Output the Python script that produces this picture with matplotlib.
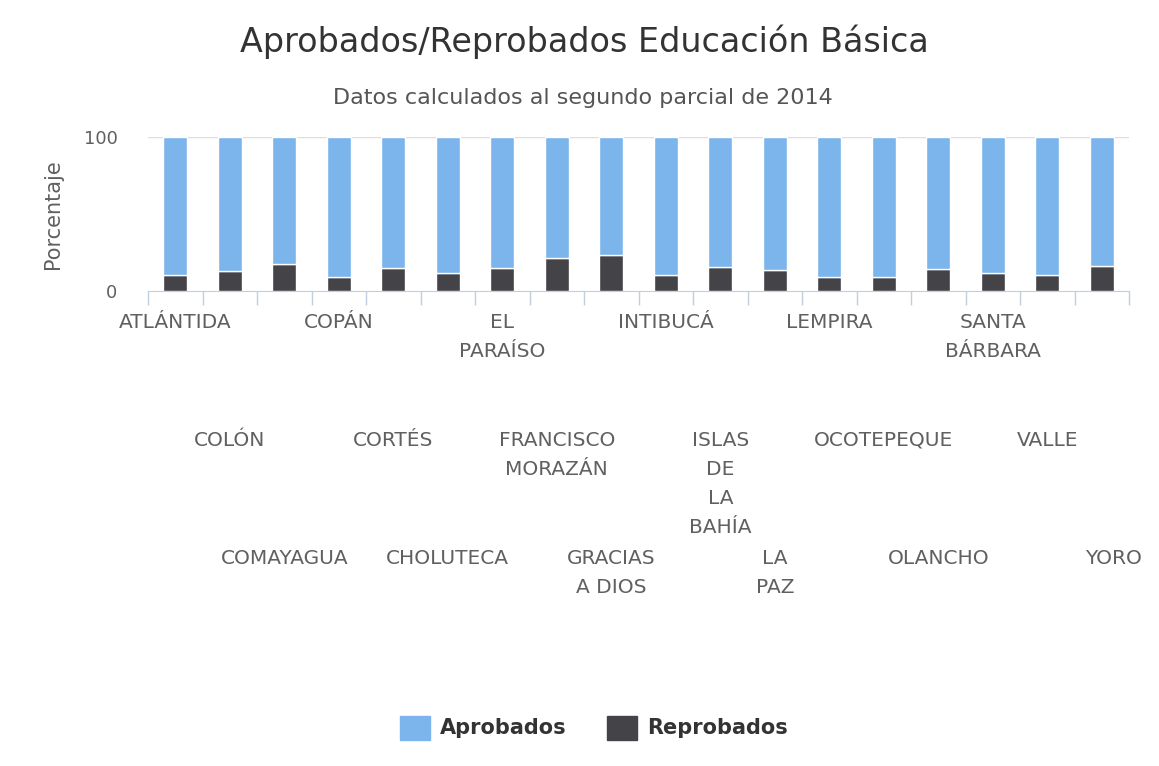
import matplotlib
matplotlib.use("Agg")
import matplotlib.pyplot as plt
from matplotlib.transforms import blended_transform_factory
from matplotlib.patches import Rectangle

categories = ["ATLÁNTIDA", "COLÓN", "COMAYAGUA", "COPÁN", "CORTÉS", "CHOLUTECA",
              "EL\nPARAÍSO", "FRANCISCO\nMORAZÁN", "GRACIAS\nA DIOS", "INTIBUCÁ",
              "ISLAS\nDE\nLA\nBAHÍA", "LA\nPAZ", "LEMPIRA", "OCOTEPEQUE", "OLANCHO",
              "SANTA\nBÁRBARA", "VALLE", "YORO"]
reprobados = [10.6, 13.0, 17.7, 9.1, 15.2, 11.7, 15.2, 21.2, 23.6,
              10.4, 15.4, 13.9, 9.1, 9.1, 14.1, 11.7, 10.4, 16.2]
aprobados = [100 - r for r in reprobados]
yticks = [0, 100]

W, H = 1159, 766
fig = plt.figure(figsize=(W / 100, H / 100), dpi=100)
ax = fig.add_axes([148 / W, 1 - 291 / H, (1129 - 148) / W, (291 - 137) / H])

c_apr = "#7cb5ec"
c_rep = "#434348"
x = list(range(len(categories)))
ax.bar(x, reprobados, width=0.44, color=c_rep, edgecolor="white", linewidth=1, zorder=3)
ax.bar(x, aprobados, bottom=reprobados, width=0.44, color=c_apr, edgecolor="white",
       linewidth=1, zorder=3)

ax.set_xlim(-0.5, len(categories) - 0.5)
ax.set_ylim(0, 100)
for s in ["top", "right", "left"]:
    ax.spines[s].set_visible(False)
ax.spines["bottom"].set_color("#C0D0E0")
ax.axhline(100, color="#e6dcd2", linewidth=1, zorder=1)

# category boundary ticks
ax.set_xticks([i - 0.5 for i in range(len(categories) + 1)])
ax.set_xticklabels([])
ax.tick_params(axis="x", length=10, color="#C0D0E0", width=1)
ax.set_yticks(yticks)
ax.set_yticklabels([str(v) for v in yticks], fontsize=13, color="#606060",
                   family="DejaVu Sans")
ax.tick_params(axis="y", length=0, pad=22)
fig.text(53 / W, 1 - 214 / H, "Porcentaje", rotation=90, ha="center", va="center",
         fontsize=15, color="#606060", family="DejaVu Sans")

# staggered labels, one text per line
tr = blended_transform_factory(ax.transData, fig.transFigure)
row_base = [328, 446, 564]
step = 29
for i, lab in enumerate(categories):
    row = i % 3
    xi = i
    if i == len(categories) - 1:
        xi = i + 0.22
    for j, line in enumerate(lab.split("\n")):
        ax.text(xi, 1 - (row_base[row] + j * step) / H, line, transform=tr,
                ha="center", va="baseline", fontsize=14.5, color="#606060",
                family="DejaVu Sans")

fig.text(584 / W, 1 - 42 / H, "Aprobados/Reprobados Educación Básica", ha="center",
         va="center", fontsize=24, color="#333333", family="DejaVu Sans")
fig.text(583 / W, 1 - 98 / H, "Datos calculados al segundo parcial de 2014", ha="center",
         va="center", fontsize=16, color="#555555", family="DejaVu Sans")

# legend
for (x0, x1, col, name) in [(400, 440, c_apr, "Aprobados"), (607, 647, c_rep, "Reprobados")]:
    fig.patches.append(Rectangle((x0 / W, 1 - 740 / H), 30 / W, 24 / H,
                                 transform=fig.transFigure, color=col))
    fig.text(x1 / W, 1 - 728 / H, name, ha="left", va="center", fontsize=15,
             fontweight="bold", color="#333333", family="DejaVu Sans")

fig.savefig("out.png", dpi=100, facecolor="white")
